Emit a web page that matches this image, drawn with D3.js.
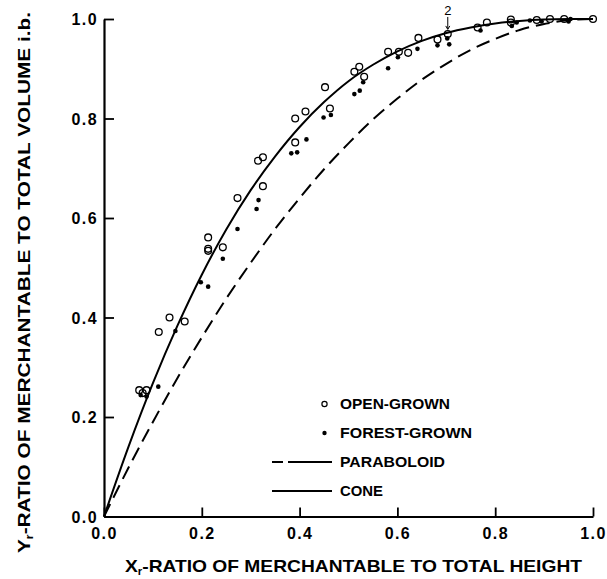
<!DOCTYPE html>
<html>
<head>
<meta charset="utf-8">
<script src="https://cdn.jsdelivr.net/npm/d3@7"></script>
<style>
  html, body { margin: 0; padding: 0; background: #fff; }
  svg { display: block; }
  text { font-family: "Liberation Sans", Arial, Helvetica, sans-serif; fill: #000; }
</style>
</head>
<body>
<svg id="chart" width="607" height="579"></svg>
<script>
// ---- data ----
const xTicks = [0.0, 0.2, 0.4, 0.6, 0.8, 1.0];
const yTicks = [0.0, 0.2, 0.4, 0.6, 0.8, 1.0];

const openX = [0.072, 0.079, 0.087, 0.112, 0.134, 0.165, 0.213, 0.213, 0.213, 0.243, 0.273, 0.315, 0.325, 0.325,
  0.391, 0.391, 0.412, 0.452, 0.462, 0.512, 0.522, 0.532, 0.581, 0.603, 0.622, 0.643, 0.682, 0.703, 0.764, 0.783,
  0.832, 0.832, 0.885, 0.912, 0.941, 1.0];
const openY = [0.254, 0.248, 0.254, 0.371, 0.400, 0.392, 0.534, 0.561, 0.538, 0.541, 0.640, 0.715, 0.722, 0.664,
  0.752, 0.800, 0.814, 0.863, 0.820, 0.894, 0.904, 0.884, 0.934, 0.934, 0.932, 0.962, 0.959, 0.970, 0.983, 0.993,
  0.999, 0.993, 0.998, 1.0, 1.0, 1.0];

const forestX = [0.075, 0.087, 0.111, 0.146, 0.198, 0.213, 0.243, 0.273, 0.312, 0.316, 0.383, 0.395, 0.414,
  0.449, 0.464, 0.512, 0.523, 0.530, 0.581, 0.601, 0.641, 0.682, 0.702, 0.706, 0.770, 0.834, 0.844, 0.871,
  0.895, 0.950, 0.954];
const forestY = [0.244, 0.241, 0.261, 0.373, 0.471, 0.462, 0.518, 0.578, 0.618, 0.636, 0.730, 0.732, 0.758,
  0.802, 0.807, 0.849, 0.856, 0.873, 0.901, 0.923, 0.940, 0.947, 0.961, 0.949, 0.977, 0.986, 0.993, 0.997,
  0.995, 0.995, 1.0];

const curveX = [0, 0.05, 0.1, 0.15, 0.2, 0.25, 0.3, 0.35, 0.4, 0.45, 0.5, 0.55, 0.6, 0.65, 0.7, 0.75, 0.8, 0.85, 0.9, 0.95, 1.0];
const coneY = [0, 0.140, 0.268, 0.383, 0.486, 0.577, 0.656, 0.724, 0.783, 0.833, 0.875, 0.908, 0.935, 0.956, 0.972, 0.983, 0.991, 0.996, 0.999, 1.0, 1.0];
const paraY = [0, 0.098, 0.190, 0.278, 0.360, 0.438, 0.510, 0.578, 0.640, 0.698, 0.750, 0.798, 0.840, 0.878, 0.910, 0.938, 0.960, 0.978, 0.990, 0.998, 1.0];

const annotX = [0.703];
const annotY = [0.970];
const annotLabel = ["2"];

const legendLabels = ["OPEN-GROWN", "FOREST-GROWN", "PARABOLOID", "CONE"];
const xTitleMain = "X";
const yTitleMain = "Y";
const titleSub = "r";
const xTitleRest = "-RATIO OF MERCHANTABLE TO TOTAL HEIGHT";
const yTitleRest = "-RATIO OF MERCHANTABLE TO TOTAL VOLUME i.b.";

// ---- layout ----
const svg = d3.select("#chart");
const x = d3.scaleLinear().domain([0, 1]).range([104, 593]);
const y = d3.scaleLinear().domain([0, 1]).range([516.5, 19]);

// axes
const xAxis = d3.axisBottom(x).tickValues(xTicks).tickSizeInner(-9).tickSizeOuter(0).tickFormat(d3.format(".1f"));
const yAxis = d3.axisLeft(y).tickValues(yTicks).tickSizeInner(-10).tickSizeOuter(0).tickFormat(d3.format(".1f"));

const gx = svg.append("g").attr("transform", `translate(0,${y(0)})`).call(xAxis);
const gy = svg.append("g").attr("transform", `translate(${x(0)},0)`).call(yAxis);

[gx, gy].forEach(g => {
  g.select(".domain").attr("stroke", "#000").attr("stroke-width", 2.2);
  g.selectAll(".tick line").attr("stroke", "#000").attr("stroke-width", 1.8);
  g.selectAll(".tick text")
    .style("font-family", '"Liberation Sans", Arial, sans-serif')
    .style("font-weight", "bold")
    .style("font-size", "16px")
    .style("letter-spacing", "1.4px")
    .attr("fill", "#000");
});
gx.selectAll(".tick text").attr("y", 11).attr("dy", "0.71em");
gy.selectAll(".tick text").attr("x", -6).attr("dy", "0.36em");

// curves
const line = d3.line().x(d => x(d[0])).y(d => y(d[1])).curve(d3.curveCatmullRom);
svg.append("path")
  .datum(curveX.map((v, i) => [v, paraY[i]]))
  .attr("d", line).attr("fill", "none").attr("stroke", "#000")
  .attr("stroke-width", 2).attr("stroke-dasharray", "14,7");
svg.append("path")
  .datum(curveX.map((v, i) => [v, coneY[i]]))
  .attr("d", line).attr("fill", "none").attr("stroke", "#000")
  .attr("stroke-width", 2);

// points
svg.append("g").selectAll("circle")
  .data(forestX.map((v, i) => [v, forestY[i]]))
  .join("circle")
  .attr("cx", d => x(d[0])).attr("cy", d => y(d[1])).attr("r", 2.3).attr("fill", "#000");
svg.append("g").selectAll("circle")
  .data(openX.map((v, i) => [v, openY[i]]))
  .join("circle")
  .attr("cx", d => x(d[0])).attr("cy", d => y(d[1])).attr("r", 3.4)
  .attr("fill", "#fff").attr("fill-opacity", 0).attr("stroke", "#000").attr("stroke-width", 1.3);

// annotation "2"
annotX.forEach((v, i) => {
  const ax = x(v), ay = y(annotY[i]);
  svg.append("line").attr("x1", ax).attr("x2", ax).attr("y1", ay - 17).attr("y2", ay - 5)
    .attr("stroke", "#000").attr("stroke-width", 1);
  svg.append("path")
    .attr("d", `M${ax - 2},${ay - 8} L${ax},${ay - 4.5} L${ax + 2},${ay - 8}`)
    .attr("fill", "none").attr("stroke", "#000").attr("stroke-width", 1);
  svg.append("text").attr("x", ax).attr("y", ay - 19).attr("text-anchor", "middle")
    .style("font-size", "13px").text(annotLabel[i]);
});

// legend
const legY = [404, 433, 462, 491];
const lg = svg.append("g");
lg.append("circle").attr("cx", 324.5).attr("cy", legY[0]).attr("r", 2.6)
  .attr("fill", "none").attr("stroke", "#000").attr("stroke-width", 1.2);
lg.append("circle").attr("cx", 324.5).attr("cy", legY[1]).attr("r", 2.2).attr("fill", "#000");
lg.append("line").attr("x1", 272).attr("x2", 332).attr("y1", legY[2]).attr("y2", legY[2])
  .attr("stroke", "#000").attr("stroke-width", 2).attr("stroke-dasharray", "11,5,45");
lg.append("line").attr("x1", 272).attr("x2", 332).attr("y1", legY[3]).attr("y2", legY[3])
  .attr("stroke", "#000").attr("stroke-width", 2);
const legW = [110, 132, 105, 43];
legendLabels.forEach((t, i) => {
  lg.append("text").attr("x", 340).attr("y", legY[i]).attr("dy", "0.36em")
    .attr("textLength", legW[i]).attr("lengthAdjust", "spacingAndGlyphs")
    .style("font-weight", "bold").style("font-size", "15px").text(t);
});

// axis titles
const xt = svg.append("text").attr("x", 125).attr("y", 572)
  .attr("textLength", 457).attr("lengthAdjust", "spacingAndGlyphs")
  .style("font-weight", "bold").style("font-size", "17px");
xt.append("tspan").text(xTitleMain);
xt.append("tspan").attr("dy", 2.5).style("font-size", "10px").text(titleSub);
xt.append("tspan").attr("dy", -2.5).text(xTitleRest);

const yt = svg.append("text").attr("transform", "translate(30,553) rotate(-90)")
  .attr("x", 0).attr("y", 0)
  .attr("textLength", 541).attr("lengthAdjust", "spacingAndGlyphs")
  .style("font-weight", "bold").style("font-size", "17px");
yt.append("tspan").text(yTitleMain);
yt.append("tspan").attr("dy", 2.5).style("font-size", "10px").text(titleSub);
yt.append("tspan").attr("dy", -2.5).text(yTitleRest);
</script>
</body>
</html>
